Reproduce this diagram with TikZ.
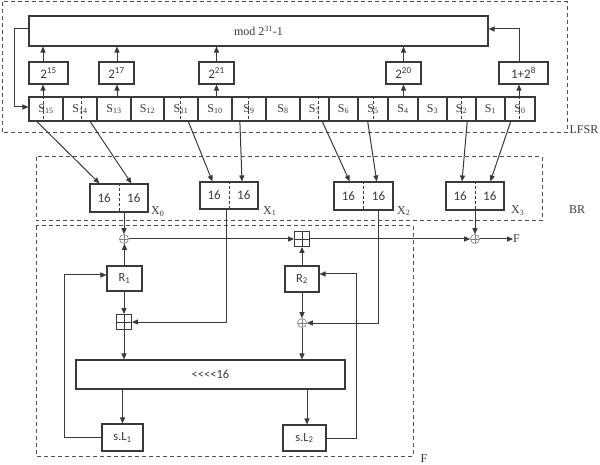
\documentclass[tikz,border=0pt]{standalone}
\usepackage{fontspec}
\setmainfont{Liberation Serif}
\newfontfamily\carl{Carlito}
\usetikzlibrary{arrows.meta,calc}
\definecolor{ln}{HTML}{3A3A3A}
\definecolor{dl}{HTML}{505050}
\begin{document}
\begin{tikzpicture}[x=1pt,y=-1pt,
  box/.style={draw=ln, line width=1.1pt, inner sep=0pt, text=ln},
  cell/.style={box, minimum height=24pt, font=\fontsize{12}{12}\selectfont},
  pbox/.style={box, minimum height=22pt, font=\carl\fontsize{13}{13}\selectfont},
  sbox/.style={box, font=\carl\fontsize{12.5}{13}\selectfont},
  arr/.style={draw=ln, line width=1pt, -{Triangle[length=6pt,width=5pt]}},
  dbox/.style={draw=dl, line width=1pt, dash pattern=on 4pt off 3pt},
  tick/.style={draw=ln, line width=0.7pt, dash pattern=on 3pt off 2pt},
  lbl/.style={text=ln, font=\fontsize{12}{12}\selectfont, inner sep=0pt},
  num/.style={text=ln, font=\carl\fontsize{13}{13}\selectfont, inner sep=0pt},
  xorn/.style={circle, draw=gray, line width=0.6pt, minimum size=9pt, inner sep=0pt,
    path picture={\draw[gray, line width=0.6pt] (path picture bounding box.north) -- (path picture bounding box.south) (path picture bounding box.west) -- (path picture bounding box.east);}},
  bplus/.style={rectangle, draw=ln, line width=0.9pt, minimum size=15pt, inner sep=0pt,
    path picture={\draw[ln, line width=0.8pt] (path picture bounding box.north) -- (path picture bounding box.south) (path picture bounding box.west) -- (path picture bounding box.east);}},
]
\useasboundingbox (0,0) rectangle (600,465);

% dashed frames
\draw[dbox] (2,2) rectangle (567,133);
\draw[dbox] (36,157) rectangle (542,221);
\draw[dbox] (36,226) rectangle (413,456);
\node[lbl] (lfsr) at (584,130) {LFSR};
\node[lbl] (br) at (577,210) {BR};
\node[lbl] (flab) at (424,458.5) {F};

% LFSR
\node[box, minimum width=459pt, minimum height=30pt, font=\fontsize{12}{12}\selectfont] (mod) at (258.5,31) {mod 2\textsuperscript{31}-1};
\node[pbox, minimum width=39pt] (p15) at (48.5,73) {2\textsuperscript{15}};
\node[pbox, minimum width=35pt] (p17) at (116.5,73) {2\textsuperscript{17}};
\node[pbox, minimum width=35pt] (p21) at (216.5,73) {2\textsuperscript{21}};
\node[pbox, minimum width=35pt] (p20) at (403.5,73) {2\textsuperscript{20}};
\node[pbox, minimum width=49pt] (p8) at (523.5,73) {1+2\textsuperscript{8}};

\foreach \l/\r/\n in {29/63/15, 63/97/14, 97/131/13, 131/164/12, 164/198/11, 198/232/10, 232/266/9, 266/300/8, 300/329/7, 329/358/6, 358/388/5, 388/418/4, 418/447/3, 447/476/2, 476/505/1, 505/535/0}
  \node[cell, minimum width=\r-\l] (s\n) at ({(\l+\r)/2},109) {S\textsubscript{\n}};

\foreach \x/\c in {43/15, 81/14, 180/11, 248/9, 318/7, 373/5, 461/2, 519/0}{
  \coordinate (t\c) at (\x,109);
  \draw[tick] (t\c |- s\c.north) -- (t\c |- s\c.south);
}
\coordinate (a13) at (117,109);

\draw[arr] (t15 |- s15.north) -- (t15 |- p15.south);
\draw[arr] (t15 |- p15.north) -- (t15 |- mod.south);
\draw[arr] (a13 |- s13.north) -- (a13 |- p17.south);
\draw[arr] (a13 |- p17.north) -- (a13 |- mod.south);
\draw[arr] (p21.south |- s10.north) -- (p21.south);
\draw[arr] (p21.north) -- (p21.north |- mod.south);
\draw[arr] (p20.south |- s4.north) -- (p20.south);
\draw[arr] (p20.north) -- (p20.north |- mod.south);
\draw[arr] (t0 |- s0.north) -- (t0 |- p8.south);
\draw[arr] (t0 |- p8.north) |- ([yshift=2pt]mod.east);
\draw[arr] ([yshift=2pt]mod.west) -- ++(-14,0) |- ([yshift=2pt]s15.west);

% BR
\node[box, minimum width=58pt, minimum height=28pt] (x0) at (119,198) {};
\node[box, minimum width=58pt, minimum height=27pt] (x1) at (229,195.5) {};
\node[box, minimum width=59pt, minimum height=28pt] (x2) at (363.5,196) {};
\node[box, minimum width=58pt, minimum height=28pt] (x3) at (475,196) {};
\foreach \b in {0,1,2,3}{
  \draw[tick] (x\b.north) -- (x\b.south);
  \node[num] (x\b a) at ($(x\b.center)!0.5!(x\b.west)$) {16};
  \node[num] (x\b b) at ($(x\b.center)!0.5!(x\b.east)$) {16};
}
\node[lbl, anchor=west] (x0l) at (151,212) {X\textsubscript{0}};
\node[lbl, anchor=west] (x1l) at (263,211) {X\textsubscript{1}};
\node[lbl, anchor=west] (x2l) at (397,211) {X\textsubscript{2}};
\node[lbl, anchor=west] (x3l) at (511,211) {X\textsubscript{3}};

\draw[arr] ($(s15.south west)!0.24!(s15.south east)$) -- ($(x0.north west)!0.17!(x0.north east)$);
\draw[arr] ($(s14.south west)!0.79!(s14.south east)$) -- ($(x0.north west)!0.71!(x0.north east)$);
\draw[arr] ($(s11.south west)!0.71!(s11.south east)$) -- ($(x1.north west)!0.22!(x1.north east)$);
\draw[arr] ($(s9.south west)!0.24!(s9.south east)$) -- ($(x1.north west)!0.72!(x1.north east)$);
\draw[arr] ($(s7.south west)!0.76!(s7.south east)$) -- ($(x2.north west)!0.27!(x2.north east)$);
\draw[arr] ($(s5.south west)!0.33!(s5.south east)$) -- ($(x2.north west)!0.72!(x2.north east)$);
\draw[arr] ($(s2.south west)!0.69!(s2.south east)$) -- ($(x3.north west)!0.28!(x3.north east)$);
\draw[arr] ($(s0.south west)!0.2!(s0.south east)$) -- ($(x3.north west)!0.76!(x3.north east)$);

% F
\node[xorn] (xor1) at (124,239) {};
\node[bplus] (bp1) at (302,239) {};
\node[xorn] (xor3) at (475,239) {};
\node[lbl, anchor=west] (fout) at (513,239) {F};
\node[sbox, minimum width=35pt, minimum height=25pt] (R1) at (124.5,278.5) {R\textsubscript{1}};
\node[sbox, minimum width=34pt, minimum height=26pt] (R2) at (302,279) {R\textsubscript{2}};
\node[bplus] (bp2) at (124,322) {};
\node[xorn] (xor2) at (302,323) {};
\node[sbox, minimum width=269pt, minimum height=29pt] (big) at (210.5,374.5) {<<<<16};
\node[sbox, minimum width=41pt, minimum height=27pt] (sl1) at (122.5,437.5) {s.L\textsubscript{1}};
\node[sbox, minimum width=43pt, minimum height=26pt] (sl2) at (304.5,438) {s.L\textsubscript{2}};

\draw[arr] (xor1.north |- x0.south) -- (xor1.north);
\draw[arr] (R1.north) -- (R1.north |- xor1.south);
\draw[arr] (xor1.east) -- (bp1.west);
\draw[arr] (bp1.east) -- (xor3.west);
\draw[arr] (xor3.east) -- (fout.west);
\draw[arr] (x3.south) -- (xor3.north);
\draw[arr] (R2.north) -- (bp1.south);
\draw[arr] ($(x1.south)!0.1!(x1.south west)$) |- (bp2.east);
\draw[arr] ($(x2.south)!0.5!(x2.south east)$) |- (xor2.east);
\draw[arr] (R1.south -| bp2.north) -- (bp2.north);
\draw[arr] (bp2.south) -- (bp2.south |- big.north);
\draw[arr] (R2.south) -- (xor2.north);
\draw[arr] (xor2.south) -- (xor2.south |- big.north);
\draw[arr] (sl1.north |- big.south) -- (sl1.north);
\draw[arr] ([xshift=2.5pt]sl2.north |- big.south) -- ([xshift=2.5pt]sl2.north);
\coordinate (c1) at (64,275);
\coordinate (c2) at (356,274);
\draw[arr] (sl1.west) -| (c1) -- (c1 -| R1.west);
\draw[arr] (sl2.east) -| (c2) -- (c2 -| R2.east);
\end{tikzpicture}
\end{document}
